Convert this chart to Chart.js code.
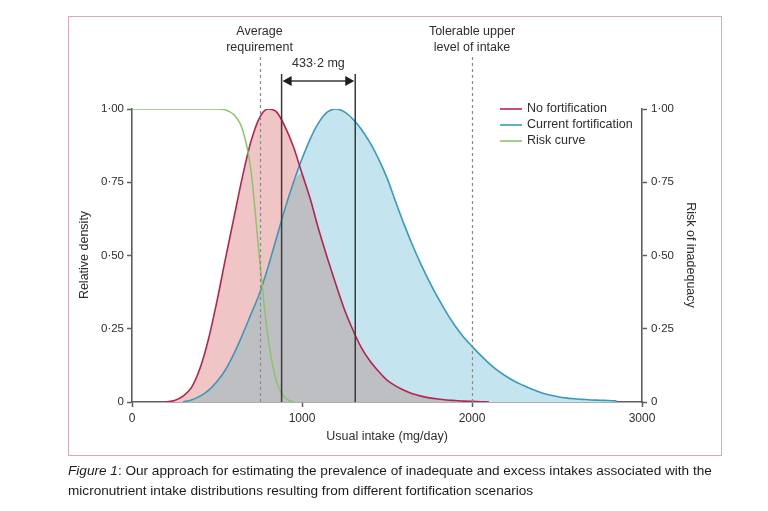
<!DOCTYPE html>
<html>
<head>
<meta charset="utf-8">
<script src="https://cdn.jsdelivr.net/npm/chart.js@4.4.1/dist/chart.umd.min.js"></script>
<style>
html,body{margin:0;padding:0;background:#fff;width:768px;height:511px;overflow:hidden;}
#wrap{position:relative;width:768px;height:511px;}
canvas{position:absolute;left:0;top:0;}
#frame{position:absolute;left:68px;top:16px;width:654px;height:440px;border:1px solid #d6a9bc;box-sizing:border-box;pointer-events:none;}
#cap{position:absolute;left:68px;top:461px;white-space:nowrap;font-family:'Liberation Sans',Arial,sans-serif;font-size:13.6px;line-height:20px;color:#1f1b1c;}
</style>
</head>
<body>
<div id="wrap">
<canvas id="c" width="768" height="511"></canvas>
<div id="frame"></div>
<div id="cap"><i>Figure 1</i>: Our approach for estimating the prevalence of inadequate and excess intakes associated with the<br>micronutrient intake distributions resulting from different fortification scenarios</div>
</div>
<script>
// ---------- data ----------
const intakeMg = [0,50,100,150,200,250,300,350,400,450,500,550,600,650,700,750,800,850,900,950,
  1000,1050,1100,1150,1200,1250,1300,1350,1400,1450,1500,1550,1600,1650,1700,1750,1800,1850,1900,1950,
  2000,2050,2100,2150,2200,2250,2300,2350,2400,2450,2500,2550,2600,2650,2700,2750,2800,2850];

const noFortification = [null,null,null,null,0,0.005,0.02,0.05,0.115,0.215,0.345,0.49,0.63,0.77,0.89,0.97,1.0,0.99,0.94,0.87,
  0.78,0.69,0.585,0.49,0.40,0.315,0.245,0.185,0.14,0.105,0.075,0.055,0.04,0.028,0.02,0.014,0.01,0.007,0.005,0.003,
  0.002,0.001,0,null,null,null,null,null,null,null,null,null,null,null,null,null,null,null];

const currentFortification = [null,null,null,null,null,null,0,0.007,0.02,0.04,0.07,0.11,0.165,0.23,0.30,0.37,0.46,0.56,0.66,0.75,
  0.83,0.90,0.955,0.99,1.0,0.99,0.965,0.93,0.885,0.83,0.765,0.685,0.607,0.535,0.47,0.41,0.355,0.305,0.26,0.222,
  0.19,0.16,0.132,0.108,0.088,0.071,0.057,0.044,0.033,0.025,0.019,0.014,0.011,0.009,0.007,0.006,0.005,0.004];

const riskCurve = [1,1,1,1,1,1,1,1,1,1,1,0.997,0.98,0.93,0.79,0.49,0.22,0.07,0.015,0,
  null,null,null,null,null,null,null,null,null,null,null,null,null,null,null,null,null,null,null,null,
  null,null,null,null,null,null,null,null,null,null,null,null,null,null,null,null,null,null];

const seriesNames = ['No fortification','Current fortification','Risk curve'];
const xTickValues = [0,1000,2000,3000];
const yTickValues = [0,0.25,0.5,0.75,1];
const averageRequirement = 750;
const tolerableUpperLevel = 2000;
const gapFrom = 880;
const gapTo = 1313.2;
const gapLabel = '433·2 mg';

// ---------- styling ----------
const C = {
  red:'#b3264f', blue:'#3a9aba', green:'#8cc46a',
  redFill:'#efc6c5', blueFill:'#c4e4f0', grayFill:'#bebfc3',
  axis:'#5e5e5e', text:'#2e2e2e'
};
const FONT = "'Liberation Sans', Arial, sans-serif";

const toPts = arr => intakeMg.map((x,i)=>({x, y: arr[i]}));
const overlap = intakeMg.map((x,i)=> (noFortification[i]==null || currentFortification[i]==null) ? null : Math.min(noFortification[i], currentFortification[i]));

const fmt = v => v===0 ? '0' : v.toFixed(2).replace('.','·');

const annot = {
  id:'annot',
  afterDatasetsDraw(chart){
    const {ctx, scales:{x, y}} = chart;
    const base = y.getPixelForValue(0);
    ctx.save();
    // dotted reference lines
    ctx.strokeStyle = '#8a8a8a'; ctx.lineWidth = 1.2; ctx.setLineDash([3,3]);
    [averageRequirement, tolerableUpperLevel].forEach(v=>{
      const px = Math.round(x.getPixelForValue(v)) + 0.5;
      ctx.beginPath(); ctx.moveTo(px, 57); ctx.lineTo(px, base); ctx.stroke();
    });
    ctx.setLineDash([]);
    // solid lines + arrow
    const a = x.getPixelForValue(gapFrom), b = x.getPixelForValue(gapTo);
    ctx.strokeStyle = '#3a3a3a'; ctx.lineWidth = 1.5;
    [a,b].forEach(px=>{ ctx.beginPath(); ctx.moveTo(px, 74); ctx.lineTo(px, base); ctx.stroke(); });
    const ay = 81;
    ctx.beginPath(); ctx.moveTo(a+4, ay); ctx.lineTo(b-4, ay); ctx.stroke();
    ctx.fillStyle = '#1e1e1e';
    ctx.beginPath(); ctx.moveTo(a+1, ay); ctx.lineTo(a+10, ay-5); ctx.lineTo(a+10, ay+5); ctx.closePath(); ctx.fill();
    ctx.beginPath(); ctx.moveTo(b-1, ay); ctx.lineTo(b-10, ay-5); ctx.lineTo(b-10, ay+5); ctx.closePath(); ctx.fill();
    // texts
    ctx.fillStyle = C.text; ctx.font = '12.5px ' + FONT; ctx.textAlign = 'center'; ctx.textBaseline = 'middle';
    const ar = x.getPixelForValue(averageRequirement), ul = x.getPixelForValue(tolerableUpperLevel);
    ctx.fillText('Average', ar, 32); ctx.fillText('requirement', ar, 48);
    ctx.fillText('Tolerable upper', ul, 32); ctx.fillText('level of intake', ul, 48);
    ctx.fillText(gapLabel, (a+b)/2, 64);
    ctx.fillText('Usual intake (mg/day)', (x.left + x.right)/2, 437);
    ctx.save(); ctx.translate(85, 255); ctx.rotate(-Math.PI/2); ctx.fillText('Relative density', 0, 0); ctx.restore();
    ctx.save(); ctx.translate(690, 255); ctx.rotate(Math.PI/2); ctx.fillText('Risk of inadequacy', 0, 0); ctx.restore();
    // legend
    const cols = [C.red, C.blue, C.green];
    ctx.textAlign = 'left';
    seriesNames.forEach((n,i)=>{
      const yy = 109 + i*16;
      ctx.strokeStyle = cols[i]; ctx.lineWidth = 1.6;
      ctx.beginPath(); ctx.moveTo(500, yy); ctx.lineTo(522, yy); ctx.stroke();
      ctx.fillStyle = C.text; ctx.fillText(n, 527, yy);
    });
    ctx.restore();
  }
};

const axisCommon = {
  border:{display:true, color:C.axis, width:1.6},
  grid:{drawOnChartArea:false, tickLength:5, tickColor:C.axis, tickWidth:1.5},
};

new Chart(document.getElementById('c'), {
  type:'line',
  data:{ datasets:[
    {label:'fillRed', data:toPts(noFortification), fill:'origin', backgroundColor:C.redFill, borderWidth:0, pointRadius:0, cubicInterpolationMode:'monotone', order:6},
    {label:'fillBlue', data:toPts(currentFortification), fill:'origin', backgroundColor:C.blueFill, borderWidth:0, pointRadius:0, cubicInterpolationMode:'monotone', order:5},
    {label:'fillOverlap', data:toPts(overlap), fill:'origin', backgroundColor:C.grayFill, borderWidth:0, pointRadius:0, cubicInterpolationMode:'monotone', order:4},
    {label:seriesNames[1], data:toPts(currentFortification), fill:false, borderColor:C.blue, borderWidth:1.6, pointRadius:0, cubicInterpolationMode:'monotone', order:3},
    {label:seriesNames[0], data:toPts(noFortification), fill:false, borderColor:C.red, borderWidth:1.6, pointRadius:0, cubicInterpolationMode:'monotone', order:2},
    {label:seriesNames[2], data:toPts(riskCurve), yAxisID:'y2', fill:false, borderColor:C.green, borderWidth:1.5, pointRadius:0, cubicInterpolationMode:'monotone', order:1}
  ]},
  options:{
    responsive:false, animation:false, devicePixelRatio:1,
    layout:{padding:{top:109, left:0, right:0, bottom:0}},
    plugins:{legend:{display:false}, tooltip:{enabled:false}},
    scales:{
      x:{type:'linear', min:0, max:3000, ...axisCommon,
        afterBuildTicks: s => { s.ticks = xTickValues.map(v=>({value:v})); },
        afterFit: s => { s.height = 109; },
        ticks:{color:C.text, font:{family:FONT, size:12}, padding:4, maxRotation:0, callback:v=>String(v)}},
      y:{type:'linear', position:'left', min:0, max:1, ...axisCommon,
        afterBuildTicks: s => { s.ticks = yTickValues.map(v=>({value:v})); },
        afterFit: s => { s.width = 132; },
        ticks:{color:C.text, font:{family:FONT, size:11.5}, padding:3, callback:fmt}},
      y2:{type:'linear', position:'right', min:0, max:1, ...axisCommon,
        afterBuildTicks: s => { s.ticks = yTickValues.map(v=>({value:v})); },
        afterFit: s => { s.width = 126; },
        ticks:{color:C.text, font:{family:FONT, size:11.5}, padding:4, callback:fmt}}
    }
  },
  plugins:[annot]
});
</script>
</body>
</html>
